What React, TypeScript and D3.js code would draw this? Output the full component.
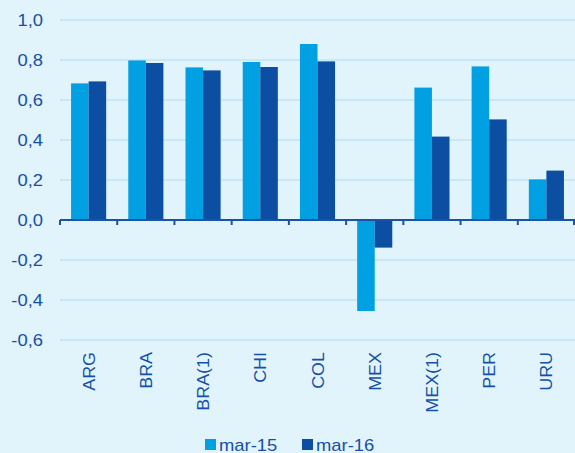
import React, { useEffect, useRef } from 'react';
import * as d3 from 'd3';

const categories = ['ARG', 'BRA', 'BRA(1)', 'CHI', 'COL', 'MEX', 'MEX(1)', 'PER', 'URU'];
const mar15 = [0.683, 0.798, 0.763, 0.79, 0.88, -0.455, 0.662, 0.768, 0.203];
const mar16 = [0.693, 0.785, 0.748, 0.765, 0.793, -0.138, 0.417, 0.503, 0.247];
const seriesNames = ['mar-15', 'mar-16'];
const yTicks = [1.0, 0.8, 0.6, 0.4, 0.2, 0.0, -0.2, -0.4, -0.6];

const W = 575, H = 453;
const colors = ['#00a0e3', '#0b4ea2'];
const textColor = '#1550a8';
const font = 'Liberation Sans, Arial, sans-serif';

const App = () => {
  const ref = useRef<SVGSVGElement>(null);

  useEffect(() => {
    if (!ref.current) return;
    const svg = d3.select(ref.current);
    svg.selectAll('*').remove();

    const left = 60, right = 575, top = 20, bottom = 340;
    svg.append('rect').attr('width', W).attr('height', H).attr('fill', '#e1f3fb');

    const x = d3.scaleBand().domain(categories).range([left, right]).paddingInner(0).paddingOuter(0);
    const y = d3.scaleLinear().domain([-0.6, 1.0]).range([bottom, top]);
    const inner = d3.scaleBand().domain(seriesNames).range([0, x.bandwidth()]).paddingOuter(0.63).paddingInner(0);

    // grid
    svg.append('g').selectAll('line').data(yTicks.filter(t => t !== 0)).enter().append('line')
      .attr('x1', left).attr('x2', right)
      .attr('y1', d => y(d)).attr('y2', d => y(d))
      .attr('stroke', '#bfe4f6').attr('stroke-width', 1.5);

    // y labels (text in the original is a bit wider than Arial)
    svg.append('g').selectAll('text').data(yTicks).enter().append('text')
      .attr('transform', d => `translate(43,${y(d) + 6}) scale(1.15,1)`)
      .attr('text-anchor', 'end')
      .attr('font-family', font).attr('font-size', 16)
      .attr('fill', textColor)
      .text(d => d3.format('.1f')(d).replace('.', ',').replace('−', '-'));

    // bars
    const data = categories.map((c, i) => ({ c, vals: [mar15[i], mar16[i]] }));
    const groups = svg.append('g').selectAll('g').data(data).enter().append('g')
      .attr('transform', d => `translate(${x(d.c)},0)`);
    groups.selectAll('rect').data(d => d.vals.map((v, j) => ({ v, s: seriesNames[j], j }))).enter().append('rect')
      .attr('x', d => inner(d.s)!)
      .attr('width', inner.bandwidth())
      .attr('y', d => y(Math.max(0, d.v)))
      .attr('height', d => Math.abs(y(d.v) - y(0)))
      .attr('fill', d => colors[d.j]);

    // axis
    svg.append('line').attr('x1', left).attr('x2', right).attr('y1', y(0)).attr('y2', y(0))
      .attr('stroke', '#1a52a6').attr('stroke-width', 2);
    const bounds = categories.map(c => x(c)!).concat([right - 1]);
    svg.append('g').selectAll('line').data(bounds).enter().append('line')
      .attr('x1', d => d).attr('x2', d => d)
      .attr('y1', y(0)).attr('y2', y(0) + 5)
      .attr('stroke', '#1a52a6').attr('stroke-width', 2);

    // category labels
    svg.append('g').selectAll('text').data(categories).enter().append('text')
      .attr('transform', d => `translate(${x(d)! + x.bandwidth() / 2 + 6},352) rotate(-90) scale(1.12,1)`)
      .attr('text-anchor', 'end')
      .attr('font-family', font).attr('font-size', 16)
      .attr('fill', textColor)
      .text(d => d);

    // legend
    const legendX = [205, 302];
    const lg = svg.append('g').selectAll('g').data(seriesNames).enter().append('g')
      .attr('transform', (d, i) => `translate(${legendX[i]},439)`);
    lg.append('rect').attr('width', 11).attr('height', 11).attr('y', 0).attr('fill', (d, i) => colors[i]);
    lg.append('text').attr('transform', 'translate(14,11.5) scale(1.15,1)')
      .attr('font-family', font).attr('font-size', 16)
      .attr('fill', textColor)
      .text(d => d);
  }, []);

  return (
    <svg ref={ref} width={W} height={H} style={{ position: 'fixed', left: 0, top: 0, display: 'block' }} />
  );
};

export default App;
